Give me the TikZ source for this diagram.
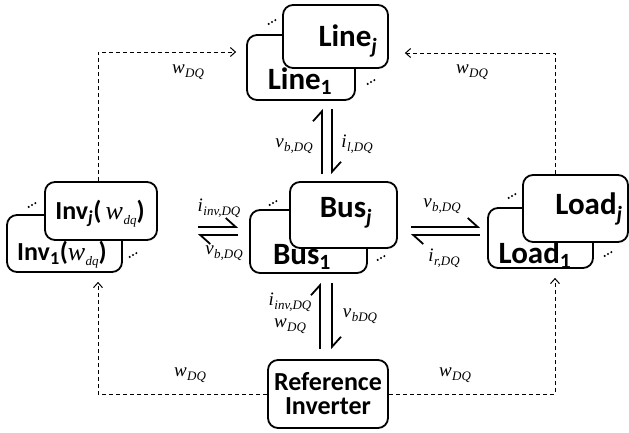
\documentclass[tikz,border=0pt]{standalone}
\usepackage{fontspec}
\setsansfont{Carlito}
\newfontfamily\tms{Liberation Serif}
\usetikzlibrary{arrows.meta}
% italic quantity with a subscript, Times style
\newcommand\qsym[2]{{\tms\itshape #1\kern0.5pt\raisebox{-0.45ex}{\fontsize{13}{13}\selectfont #2}}}
% three slanted dots around a named coordinate
\newcommand\slantdots[1]{\foreach \k in {-1,0,1} \fill ([shift={(\k*3.3pt,\k*1.9pt)}]#1) circle (1.15pt);}
\begin{document}
\begin{tikzpicture}[x=1pt,y=-1pt,
  blk/.style={draw, line width=1.8pt, rounded corners=10pt, fill=white, inner sep=0pt},
  btxt/.style={font=\sffamily\bfseries\fontsize{31}{33}\selectfont, inner sep=0pt},
  rtxt/.style={font=\sffamily\bfseries\fontsize{26}{27}\selectfont, inner sep=0pt},
  itxt/.style={font=\sffamily\bfseries\fontsize{26}{28}\selectfont, inner sep=0pt},
  lab/.style={font=\fontsize{19}{19}\selectfont, inner sep=0pt},
  hp/.style={line width=1.8pt, -{Straight Barb[left,length=10pt,width=18pt]}},
  dsh/.style={line width=1pt, dash pattern=on 4pt off 3pt, -{Straight Barb[length=5pt,width=9pt,line width=1pt]}}]
\useasboundingbox (0,0) rectangle (629,432);

% Line block stack
\node[blk, minimum width=108pt, minimum height=65pt] (line1) at (301,67.5) {};
\node[btxt] (line1t) at (300,81) {Line\textsubscript{1}};
\coordinate (lined1) at (272,22);
\coordinate (lined2) at (371,82);
\slantdots{lined1} \slantdots{lined2}
\node[blk, minimum width=105pt, minimum height=63pt] (linej) at (335.5,36.5) {};
\node[btxt] (linejt) at (348,41) {Line\textsubscript{\itshape j}};

% Inverter block stack
\node[blk, minimum width=115pt, minimum height=57pt] (inv1) at (64.5,243.5) {};
\node[itxt] (inv1t) at (62,255) {Inv\textsubscript{1}({\mdseries\qsym{w}{dq}})};
\coordinate (invd1) at (32,205);
\coordinate (invd2) at (133,255);
\slantdots{invd1} \slantdots{invd2}
\node[blk, minimum width=112pt, minimum height=58pt] (invj) at (101,211) {};
\node[itxt] (invjt) at (100,214) {Inv\textsubscript{\itshape j}(\,{\mdseries\qsym{w}{dq}})};

% Bus block stack
\node[blk, minimum width=117pt, minimum height=63pt] (bus1) at (308.5,241.5) {};
\node[btxt] (bus1t) at (302,257) {Bus\textsubscript{1}};
\coordinate (busd1) at (273,203);
\coordinate (busd2) at (381,258);
\slantdots{busd1} \slantdots{busd2}
\node[blk, minimum width=107pt, minimum height=66pt] (busj) at (343.5,215) {};
\node[btxt] (busjt) at (346,213) {Bus\textsubscript{\itshape j}};

% Load block stack
\node[blk, minimum width=105pt, minimum height=60pt] (load1) at (540.5,238) {};
\node[btxt] (load1t) at (535,255) {Load\textsubscript{1}};
\coordinate (loadd1) at (512,196);
\coordinate (loadd2) at (608,254);
\slantdots{loadd1} \slantdots{loadd2}
\node[blk, minimum width=105pt, minimum height=67pt] (loadj) at (575.5,208.5) {};
\node[btxt] (loadjt) at (589,209) {Load\textsubscript{\itshape j}};

% Reference inverter
\node[blk, minimum width=120pt, minimum height=68pt, rtxt, align=center] (ref) at (328,394) {Reference\\[-3pt]Inverter};

% Line <-> Bus
\draw[hp] ([xshift=-21.5pt,yshift=7pt]busj.north) -- ([xshift=21pt,yshift=-8pt]line1.south);
\draw[hp] ([xshift=31pt,yshift=-8pt]line1.south) -- ([xshift=-11.5pt,yshift=7pt]busj.north);
\node[lab] (l1) at (294,146) {\qsym{v}{b,DQ}};
\node[lab] (l2) at (357,144) {\qsym{i}{l,DQ}};

% Inverter <-> Bus
\draw[hp] ([xshift=40pt,yshift=-16pt]invj.east) -- ([xshift=-11pt,yshift=14.5pt]bus1.west);
\draw[hp] ([xshift=-11pt,yshift=6.5pt]bus1.west) -- ([xshift=40pt,yshift=-24pt]invj.east);
\node[lab] (l3) at (219,208) {\qsym{i}{inv,DQ}};
\node[lab] (l4) at (224,253) {\qsym{v}{b,DQ}};

% Bus <-> Load
\draw[hp] ([xshift=13pt,yshift=-12pt]busj.east) -- ([xshift=-7pt,yshift=11pt]load1.west);
\draw[hp] ([xshift=-7pt,yshift=3pt]load1.west) -- ([xshift=13pt,yshift=-20pt]busj.east);
\node[lab] (l5) at (442,206) {\qsym{v}{b,DQ}};
\node[lab] (l6) at (444,258) {\qsym{i}{r,DQ}};

% Bus <-> Reference inverter
\draw[hp] ([xshift=-8pt,yshift=10pt]ref.north) -- ([xshift=11.5pt,yshift=-9pt]bus1.south);
\draw[hp] ([xshift=23.5pt,yshift=-9pt]bus1.south) -- ([xshift=4pt,yshift=10pt]ref.north);
\node[lab] (l7) at (290,302) {\qsym{i}{inv,DQ}};
\node[lab] (l8) at (290,326) {\qsym{w}{DQ}};
\node[lab] (l9) at (360,316) {\qsym{v}{bDQ}};

% Frequency distribution (dashed)
\draw[dsh] ([xshift=-3pt]invj.north) |- ([xshift=-10pt,yshift=15.5pt]line1.west);
\draw[dsh] ([xshift=-20.5pt]loadj.north) |- ([xshift=16pt,yshift=-16.5pt]linej.east);
\draw[dsh] (ref.west) -| ([xshift=33.5pt,yshift=-9pt]inv1.south);
\draw[dsh] (ref.east) -| ([xshift=14.5pt,yshift=-9pt]load1.south);
\node[lab] (w1) at (188,72) {\qsym{w}{DQ}};
\node[lab] (w2) at (472,72) {\qsym{w}{DQ}};
\node[lab] (w3) at (190,375) {\qsym{w}{DQ}};
\node[lab] (w4) at (455,375) {\qsym{w}{DQ}};
\end{tikzpicture}
\end{document}
